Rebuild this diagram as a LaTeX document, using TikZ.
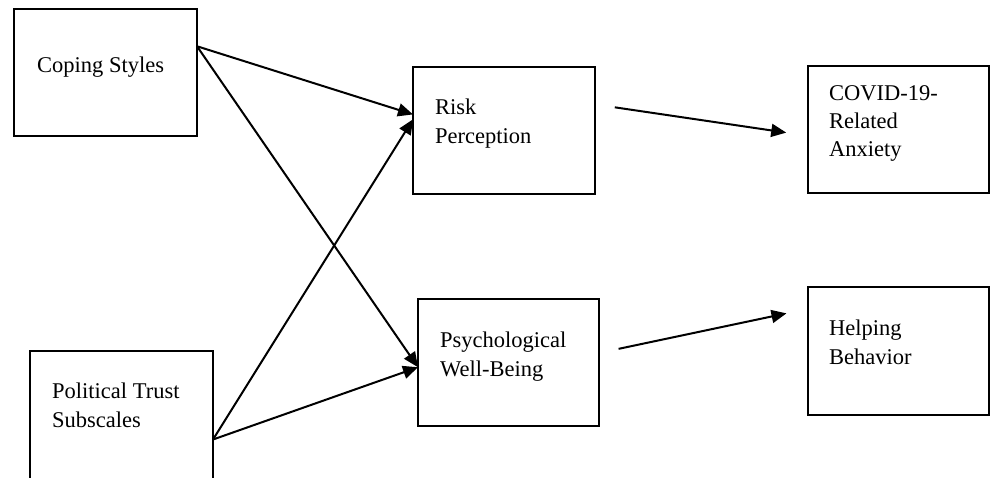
\documentclass[tikz,border=0pt]{standalone}
\usepackage{fontspec}
\setmainfont{Liberation Serif}
\usetikzlibrary{arrows.meta}
\tikzset{box/.style={draw, line width=2pt, minimum width=182pt,
        minimum height=127pt, inner sep=0pt, outer sep=0pt},
    boxtext/.style={anchor=north west, align=left, inner sep=0pt,
        font=\fontsize{22.5}{28.3}\selectfont},
    patharrow/.style={line width=2pt, -{Triangle[length=15pt,width=13pt]}}
}

\begin{document}
\begin{tikzpicture}[x=1pt,y=-1pt]
      \useasboundingbox (0,0) rectangle (990,478);
      % left column
      \node[box, minimum width=183pt] (coping) at (105.5,72.5) {};
      \node[boxtext] (copingtext) at (37,57) {Coping Styles};
      \node[box, minimum width=183pt, minimum height=128pt] (trust) at (121.5,415) {};
      \node[boxtext] (trusttext) at (52,383) {Political Trust\\Subscales};

      % middle column
      \node[box] (risk) at (504,130.5) {};
      \node[boxtext] (risktext) at (435,99) {Risk\\Perception};
      \node[box, minimum width=181pt] (psych) at (508.5,362.5) {};
      \node[boxtext] (psychtext) at (440,332) {Psychological\\Well-Being};

      % right column
      \node[box, minimum width=181pt] (covid) at (898.5,129.5) {};
      \node[boxtext] (covidtext) at (829,85) {COVID-19-\\Related\\Anxiety};
      \node[box, minimum width=181pt, minimum height=128pt] (helping) at (898.5,351) {};
      \node[boxtext] (helpingtext) at (829,320) {Helping\\Behavior};

      \draw[patharrow] (coping.16) -- (risk.170);
      \draw[patharrow] (coping.16) -- (psych.183);
      \draw[patharrow] (trust.-15) -- (risk.173);
      \draw[patharrow] (trust.-15) -- (psych.183);
      \draw[patharrow, shorten <=20pt, shorten >=22pt] (risk.16) -- (covid.184);
      \draw[patharrow, shorten <=20pt, shorten >=22pt] (psych.6) -- (helping.155);
    \end{tikzpicture}
\end{document}
